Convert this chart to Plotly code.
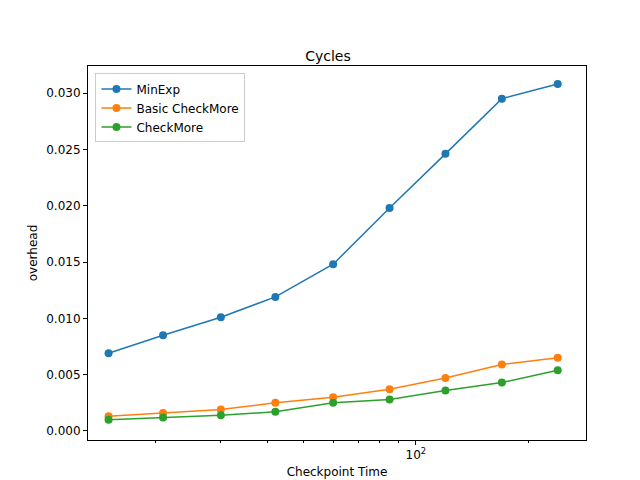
import plotly.graph_objects as go

checkpoint_time = [15, 21, 30, 42, 60, 85, 120, 170, 240]
minexp = [0.0069, 0.0085, 0.0101, 0.0119, 0.0148, 0.0198, 0.0246, 0.0295, 0.0308]
basic_checkmore = [0.0013, 0.0016, 0.0019, 0.0025, 0.0030, 0.0037, 0.0047, 0.0059, 0.0065]
checkmore = [0.0010, 0.0012, 0.0014, 0.0017, 0.0025, 0.0028, 0.0036, 0.0043, 0.0054]

series = [
    ("MinExp", minexp, "#1f77b4"),
    ("Basic CheckMore", basic_checkmore, "#ff7f0e"),
    ("CheckMore", checkmore, "#2ca02c"),
]

fig = go.Figure()
for name, vals, color in series:
    fig.add_trace(go.Scatter(
        x=checkpoint_time, y=vals, name=name, mode="lines+markers",
        line=dict(color=color, width=1.5), marker=dict(color=color, size=8),
    ))

axis_common = dict(showline=True, linecolor="black", linewidth=1, mirror=True,
                   ticks="outside", ticklen=4, tickcolor="black", showgrid=False,
                   zeroline=False, automargin=False,
                   tickfont=dict(size=12, color="black"))

fig.update_xaxes(
    type="log", range=[1.121, 2.456],
    title=dict(text="Checkpoint Time", font=dict(size=12), standoff=6),
    tickvals=[100], ticktext=["10<sup>2</sup>"],
    minor=dict(ticks="outside", ticklen=2, tickcolor="black",
               tickvals=[20, 30, 40, 50, 60, 70, 80, 90, 200]),
    **axis_common,
)
fig.update_yaxes(
    range=[-0.0008, 0.0324],
    title=dict(text="overhead", font=dict(size=12), standoff=6),
    tickvals=[0, 0.005, 0.01, 0.015, 0.02, 0.025, 0.03], tickformat=".3f",
    **axis_common,
)

fig.update_layout(
    width=640, height=480,
    paper_bgcolor="white", plot_bgcolor="white",
    font=dict(family="DejaVu Sans", size=12, color="black"),
    title=dict(text="Cycles", x=0.5, xanchor="center", y=0.91, font=dict(size=14)),
    margin=dict(l=80, r=62, t=58, b=48, autoexpand=False),
    legend=dict(x=0.015, y=0.98, xanchor="left", yanchor="top",
                bordercolor="#cccccc", borderwidth=1, bgcolor="white",
                font=dict(size=12)),
)

fig.write_html("out.html")
